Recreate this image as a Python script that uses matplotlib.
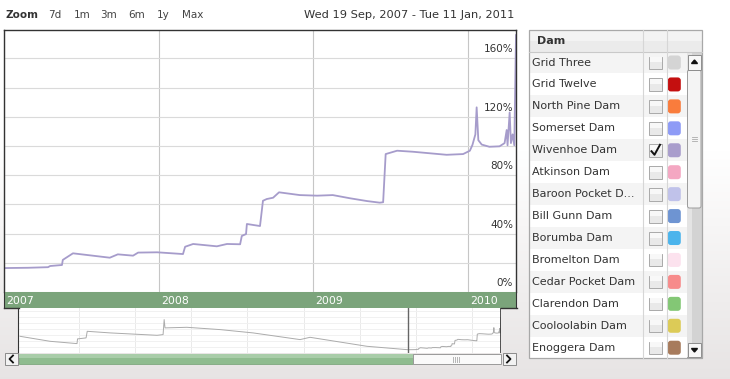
import matplotlib
matplotlib.use('Agg')
import matplotlib.pyplot as plt
from matplotlib import transforms
from matplotlib.patches import Rectangle, FancyBboxPatch
import numpy as np
import pandas as pd

W, H = 730, 379

# Wivenhoe Dam storage (% of full supply level)
dates = ['2007-09-19', '2007-11-15', '2008-01-01', '2008-01-06', '2008-02-03',
         '2008-02-05', '2008-02-29', '2008-05-26', '2008-06-14', '2008-07-20',
         '2008-08-01', '2008-09-15', '2008-11-15', '2008-11-20', '2008-12-09',
         '2009-02-03', '2009-02-27', '2009-03-30', '2009-04-03', '2009-04-13',
         '2009-04-15', '2009-05-16', '2009-05-23', '2009-06-01', '2009-06-16',
         '2009-06-30', '2009-08-18', '2009-09-28', '2009-11-04', '2009-12-15',
         '2010-01-24', '2010-02-23', '2010-03-03', '2010-03-09', '2010-04-05',
         '2010-05-12', '2010-07-31', '2010-09-08', '2010-09-24', '2010-09-30',
         '2010-10-07', '2010-10-10', '2010-10-14', '2010-10-22', '2010-11-09',
         '2010-12-03', '2010-12-15', '2010-12-20', '2010-12-22', '2010-12-27',
         '2010-12-30', '2011-01-03', '2011-01-07', '2011-01-11']
level = [16.4, 16.6, 17.0, 17.8, 18.5,
         22.0, 26.5, 23.5, 25.8, 24.9,
         27.0, 27.2, 26.0, 31.0, 32.9,
         31.3, 32.9, 32.7, 38.4, 39.7,
         46.6, 45.2, 62.5, 63.7, 64.6,
         68.3, 66.4, 66.0, 66.4, 64.2,
         62.3, 61.2, 61.5, 94.5, 96.8,
         96.1, 94.0, 94.5, 96.8, 100.7,
         108.0, 126.5, 104.0, 101.0, 99.5,
         99.8, 102.0, 111.0, 100.5, 123.0,
         102.0, 108.0, 100.5, 176.0]

# older history only shown in the navigator
nav_hist_dates = ['1993-11-28', '1994-12-24', '1995-12-09', '1995-12-16', '1996-04-05',
                  '1996-04-20', '1997-02-10', '1998-10-15', '1999-01-01', '1999-01-15',
                  '1999-01-26', '1999-11-06', '2001-01-12', '2002-03-15', '2003-11-17',
                  '2004-03-25', '2006-04-05']
nav_hist_level = [83.5, 58.5, 47.0, 70.5, 75.5,
                  108.5, 100.5, 88.5, 92.0, 167.0,
                  125.5, 128.5, 117.0, 100.5, 67.0,
                  78.5, 33.5]

range_start, range_end = '2007-09-19', '2011-01-11'
nav_start = '1993-11-02'
year_ticks = ['2007-09-19', '2008-09-19', '2009-09-19', '2010-09-19']
year_labels = ['2007', '2008', '2009', '2010']
pct_labels = [0, 40, 80, 120, 160]

zoom_buttons = ['7d', '1m', '3m', '6m', '1y', 'Max']
zoom_button_x = [48, 74, 100, 128, 157, 182]
range_text = 'Wed 19 Sep, 2007 - Tue 11 Jan, 2011'

dams = ['Grid Three', 'Grid Twelve', 'North Pine Dam', 'Somerset Dam', 'Wivenhoe Dam',
        'Atkinson Dam', 'Baroon Pocket D...', 'Bill Gunn Dam', 'Borumba Dam',
        'Bromelton Dam', 'Cedar Pocket Dam', 'Clarendon Dam', 'Cooloolabin Dam',
        'Enoggera Dam']
dam_colors = ['#D4D4D4', '#C40F0F', '#F97C3C', '#8E9BF6', '#A99DCC',
              '#F4A7C2', '#C0C2EA', '#6E94D2', '#4BB4EC',
              '#FCE2EE', '#F78B8B', '#83C775', '#DCCB57',
              '#A77B5C']
dam_checked = [False, False, False, False, True,
               False, False, False, False,
               False, False, False, False,
               False]

LINE_COLOR = '#A69CCB'
TXT = '#333333'

plt.rcParams['font.family'] = ['DejaVu Sans']

fig = plt.figure(figsize=(W / 100, H / 100), dpi=100)

# page background: white fading to light grey at the bottom
bg = fig.add_axes([0, 0, 1, 1])
grad = np.ones((H, 1, 3))
t = np.clip((np.arange(H) - 150) / (H - 150), 0, 1)
for k, c in enumerate([0.905, 0.893, 0.893]):
    grad[:, 0, k] = 1 - t * (1 - c)
bg.imshow(grad, aspect='auto', extent=[0, W, H, 0])
bg.set_xlim(0, W)
bg.set_ylim(H, 0)
bg.axis('off')


def fig_rect(x0, y0, x1, y1):
    return [x0 / W, 1 - y1 / H, (x1 - x0) / W, (y1 - y0) / H]


# main chart
d = pd.to_datetime(dates)
ax = fig.add_axes(fig_rect(4, 30, 516, 292))
ax.set_facecolor('white')
ax.plot(d, level, color=LINE_COLOR, lw=1.3, solid_joinstyle='round')
ax.set_xlim(pd.Timestamp(range_start), pd.Timestamp(range_end))
ax.set_ylim(0, 179.5)
ax.set_yticks(np.arange(0, 161, 20))
ax.set_xticks(pd.to_datetime(year_ticks))
ax.grid(axis='y', color='#DADADA', lw=0.8)
ax.grid(axis='x', color='#C6C6C6', lw=0.8)
ax.tick_params(length=0, labelbottom=False, labelleft=False)
for s in ['top', 'left', 'right']:
    ax.spines[s].set_color('#333333')
    ax.spines[s].set_linewidth(1)
ax.spines['bottom'].set_visible(False)
lab_tr = transforms.offset_copy(ax.get_yaxis_transform(), fig=fig, x=-3, y=4, units='dots')
for v in pct_labels:
    ax.text(1.0, v, f'{v}%', transform=lab_tr, ha='right', va='bottom',
            fontsize=7.5, color=TXT)

# green year band
gb = fig.add_axes(fig_rect(4, 292, 516, 308))
gb.set_facecolor('#7BA47B')
gb.set_xlim(ax.get_xlim())
gb.set_ylim(0, 1)
gb.set_xticks([])
gb.set_yticks([])
for s in ['left', 'right']:
    gb.spines[s].set_color('#333333')
gb.spines['top'].set_visible(False)
gb.spines['bottom'].set_visible(False)
yl_tr = transforms.offset_copy(gb.get_xaxis_transform(), fig=fig, x=2, y=0, units='dots')
for tk, lb in zip(pd.to_datetime(year_ticks), year_labels):
    gb.text(tk, 0.45, lb, transform=yl_tr, ha='left', va='center',
            fontsize=7.8, color='white')

# navigator
nav = fig.add_axes(fig_rect(18, 308, 501, 353))
nav.set_facecolor('white')
nav_d = pd.to_datetime(nav_hist_dates + dates)
nav.plot(nav_d, nav_hist_level + level, color='#ABABAB', lw=0.7)
nav.set_xlim(pd.Timestamp(nav_start), pd.Timestamp(range_end))
nav.set_ylim(0, 225)
nav.set_xticks(pd.to_datetime([f'{y}-01-01' for y in range(1996, 2011, 2)]))
nav.set_yticks(np.arange(30, 225, 30))
nav.grid(axis='x', color='#EAEAEA', lw=0.7)
nav.grid(axis='y', color='#F1F1F1', lw=0.7)
nav.tick_params(length=0, labelbottom=False, labelleft=False)
for s in ['top', 'bottom', 'right']:
    nav.spines[s].set_visible(False)
nav.spines['left'].set_color('#333333')
nav.axvline(pd.Timestamp(range_start), color='#666666', lw=1)
nav.axvline(pd.Timestamp(range_end), color='#333333', lw=1.2)

# overlay in pixel coordinates for the UI chrome
ov = fig.add_axes([0, 0, 1, 1])
ov.set_xlim(0, W)
ov.set_ylim(H, 0)
ov.axis('off')

# navigator outline stubs
ov.plot([3.5, 18.5], [308, 308], color='#333333', lw=1)
ov.plot([501, 516.5], [308, 308], color='#333333', lw=1)

# top bar
ov.text(5, 15, 'Zoom', fontsize=7.5, fontweight='bold', color=TXT, va='center')
for bx, bt in zip(zoom_button_x, zoom_buttons):
    ov.text(bx, 15, bt, fontsize=7.5, color='#444444', va='center')
ov.text(514, 15, range_text, fontsize=8.2, color=TXT, va='center', ha='right')

# scrollbar under navigator
ov.add_patch(Rectangle((18.5, 354), 394, 10, fc='#8FBC8F', ec='#7FA87F', lw=0.6))
ov.add_patch(Rectangle((18.5, 354), 394, 3.5, fc='#A9CDA9', ec='none'))
ov.add_patch(Rectangle((412.5, 354), 88, 10, fc='#FAFAFA', ec='#9A9A9A', lw=0.7))
for gx in [452.5, 454.5, 456.5, 458.5]:
    ov.plot([gx, gx], [356.5, 361.5], color='#B5B5B5', lw=0.7)
for bx, pts in [(5, ([13, 9.5, 13], [355.5, 359, 362.5])),
                (502.5, ([507, 510.5, 507], [355.5, 359, 362.5]))]:
    ov.add_patch(Rectangle((bx, 353), 13, 11.5, fc='#F2F2F2', ec='#8A8A8A', lw=0.7))
    ov.plot(pts[0], pts[1], color='#111111', lw=1.3)

# dam table
tx0, tx1, ty0, ty1 = 528.5, 702, 30, 357.5
ov.add_patch(Rectangle((tx0, ty0), tx1 - tx0, ty1 - ty0, fc='white', ec='none'))
ov.add_patch(Rectangle((tx0, ty0), tx1 - tx0, 22.3, fc='#F3F3F3', ec='none'))
ov.add_patch(Rectangle((tx0, ty0 + 11), tx1 - tx0, 11.3, fc='#EBEBEB', ec='none'))
ov.plot([tx0, tx1], [52.3, 52.3], color='#C9C9C9', lw=0.8)
ov.text(537.5, 41.5, 'Dam', fontsize=8, fontweight='bold', color=TXT, va='center')

row0, row_h = 62.5, 21.94
for i, (name, col, chk) in enumerate(zip(dams, dam_colors, dam_checked)):
    yc = row0 + i * row_h
    if i % 2 == 0:
        top = max(yc - row_h / 2, 52.8)
        ov.add_patch(Rectangle((tx0, top), 686.7 - tx0, min(yc + row_h / 2, ty1) - top,
                               fc='#F4F4F4', ec='none'))
    ov.text(531.5, yc, name, fontsize=8, color=TXT, va='center')
    ov.add_patch(Rectangle((649, yc - 6), 13, 12.5, fc='#E9E9E9', ec='#A9A9A9', lw=0.7))
    ov.add_patch(Rectangle((649.5, yc - 5.5), 12, 5, fc='#F8F8F8', ec='none'))
    if chk:
        ov.plot([651.5, 654.5, 660], [yc + 1, yc + 4.5, yc - 5.5],
                color='#111111', lw=1.4)
    ov.add_patch(FancyBboxPatch((667.8, yc - 7), 13, 14,
                                boxstyle='round,pad=0,rounding_size=3',
                                fc=col, ec='none'))

for cx in [643.3, 666.7]:
    ov.plot([cx, cx], [ty0, ty1], color='#D6D6D6', lw=0.8)

# table scrollbar
ov.add_patch(Rectangle((686.7, 52.3), 15.3, ty1 - 52.3, fc='#D3D3D3', ec='#A0A0A0', lw=0.7))
ov.add_patch(Rectangle((687.2, 52.8), 5, ty1 - 53.3, fc='#E4E4E4', ec='none'))
ov.add_patch(FancyBboxPatch((687.5, 70), 13.5, 138, boxstyle='round,pad=0,rounding_size=2',
                            fc='#F4F4F4', ec='#9C9C9C', lw=0.7))
for gy in [136.5, 138.5, 140.5]:
    ov.plot([691.5, 697], [gy, gy], color='#AAAAAA', lw=0.6)
for by, tri in [(55, ([691.5, 697.5, 694.5], [63.5, 63.5, 60])),
                (342.7, ([691.5, 697.5, 694.5], [348.5, 348.5, 352]))]:
    ov.add_patch(Rectangle((687.5, by), 13.5, 14.5, fc='#F7F7F7', ec='#8C8C8C', lw=0.7))
    ov.fill(tri[0], tri[1], color='#111111')

ov.add_patch(Rectangle((tx0, ty0), tx1 - tx0, ty1 - ty0, fc='none', ec='#A8A8A8', lw=0.9))

fig.savefig('out.png', dpi=100)
